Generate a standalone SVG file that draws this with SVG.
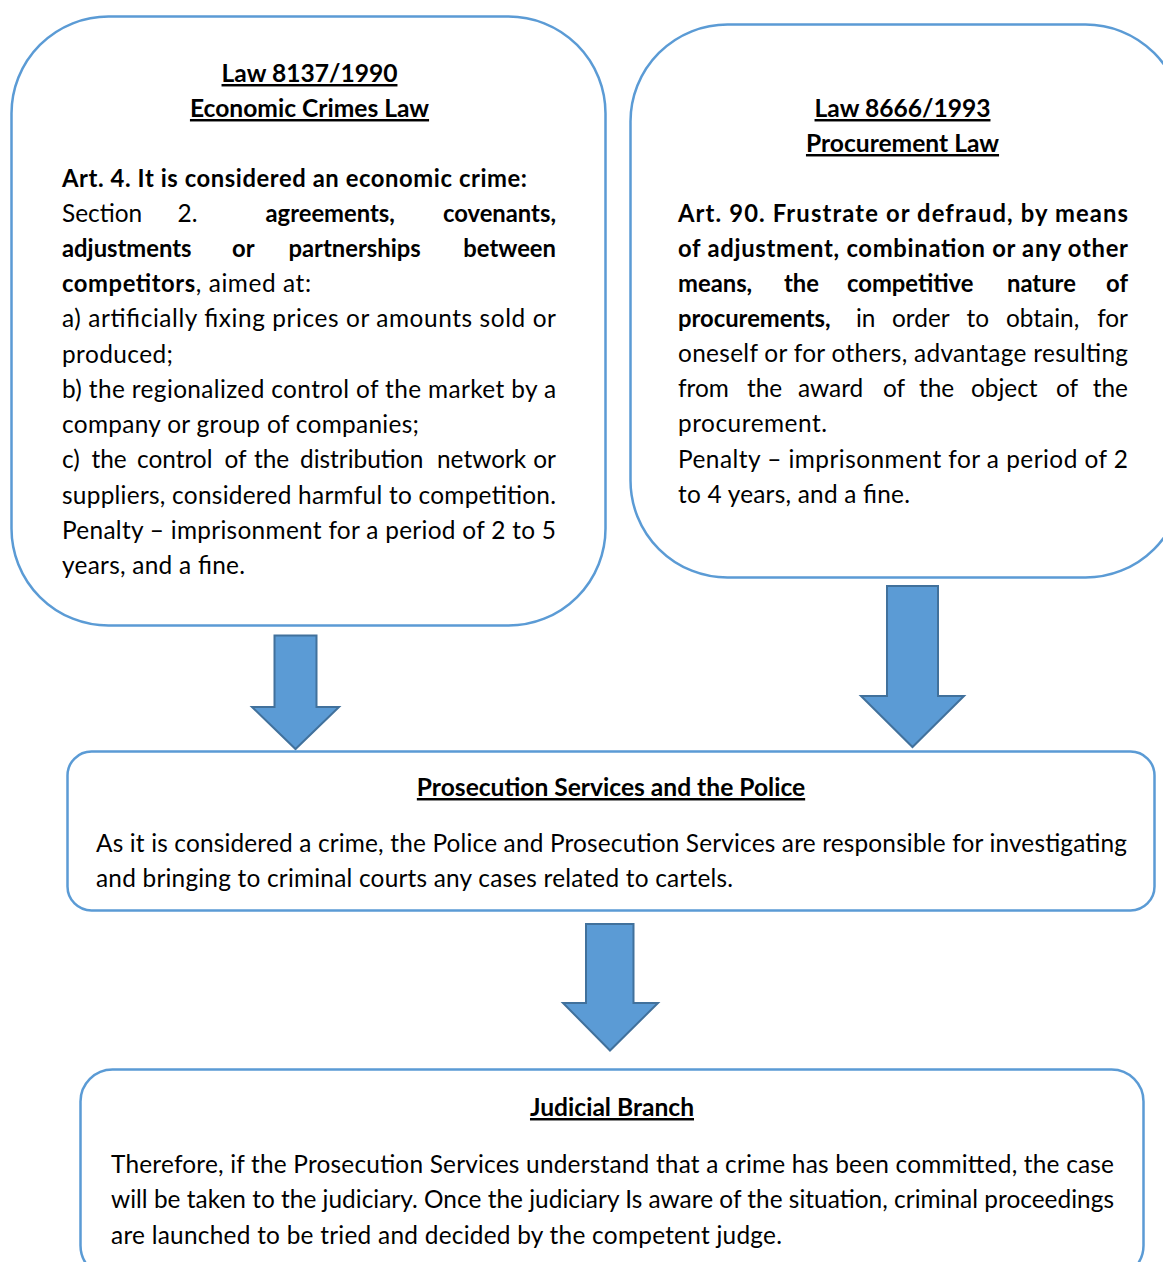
<svg xmlns="http://www.w3.org/2000/svg" width="1163" height="1262" viewBox="0 0 1163 1262">
<style>
.box{fill:#fff;stroke:#5B9BD5;stroke-width:2.5}
.arr{fill:#5B9BD5;stroke:#41719C;stroke-width:2;stroke-linejoin:miter}
text{font-family:Lato,"Open Sans","Liberation Sans",sans-serif;font-size:24.4px;fill:#000}
.b{font-weight:bold;font-size:23.8px}
.u{text-decoration:underline;font-size:24.6px}
.m{text-anchor:middle}
.e{text-anchor:end}
</style>
<rect width="1163" height="1262" fill="#fff"/>
<g id="connectors">
<polygon class="arr" points="274.5,635.5 316.5,635.5 316.5,707 339,707 295.5,749 252,707 274.5,707"/>
<polygon class="arr" points="887,586 938,586 938,696 964,696 912.5,747 861,696 887,696"/>
<polygon class="arr" points="586,924 633.5,924 633.5,1003 658,1003 610,1050.5 563,1003 586,1003"/>
</g>
<g id="law8137">
<rect class="box" x="11.5" y="16.5" width="594" height="609" rx="97" ry="97"/>
<text class="b u m" x="309.5" y="82">Law 8137/1990</text>
<text class="b u m" x="309.5" y="117">Economic Crimes Law</text>
<text class="b" x="62" y="187" textLength="465" lengthAdjust="spacing">Art. 4. It is considered an economic crime:</text>
<text y="222"><tspan x="62">Section</tspan><tspan x="177.5">2.</tspan><tspan class="b" x="265.5">agreements,</tspan><tspan class="b e" x="556">covenants,</tspan></text>
<text class="b" y="257"><tspan x="62">adjustments</tspan><tspan x="232">or</tspan><tspan x="288.5">partnerships</tspan><tspan class="e" x="556">between</tspan></text>
<text x="62" y="292" textLength="249" lengthAdjust="spacing"><tspan class="b">competitors</tspan>, aimed at:</text>
<text x="62" y="327" textLength="494" lengthAdjust="spacing">a) artificially fixing prices or amounts sold or</text>
<text x="62" y="362.5" textLength="111" lengthAdjust="spacing">produced;</text>
<text x="62" y="398" textLength="494" lengthAdjust="spacing">b) the regionalized control of the market by a</text>
<text x="62" y="433" textLength="357" lengthAdjust="spacing">company or group of companies;</text>
<text y="468"><tspan x="62">c)</tspan><tspan x="91.5">the</tspan><tspan x="137">control</tspan><tspan x="224.5">of</tspan><tspan x="254">the</tspan><tspan x="300">distribution</tspan><tspan x="437">network</tspan><tspan class="e" x="556">or</tspan></text>
<text x="62" y="503.5" textLength="494" lengthAdjust="spacing">suppliers, considered harmful to competition.</text>
<text x="62" y="539" textLength="494" lengthAdjust="spacing">Penalty – imprisonment for a period of 2 to 5</text>
<text x="62" y="574" textLength="183" lengthAdjust="spacing">years, and a fine.</text>
</g>
<g id="law8666">
<rect class="box" x="630.5" y="24.5" width="552" height="553" rx="97" ry="97"/>
<text class="b u m" x="902.5" y="117">Law 8666/1993</text>
<text class="b u m" x="902.5" y="152">Procurement Law</text>
<text class="b" x="678" y="222" textLength="450" lengthAdjust="spacing">Art. 90. Frustrate or defraud, by means</text>
<text class="b" x="678" y="257" textLength="450" lengthAdjust="spacing">of adjustment, combination or any other</text>
<text class="b" y="292"><tspan x="678">means,</tspan><tspan x="784">the</tspan><tspan x="847">competitive</tspan><tspan x="1007">nature</tspan><tspan class="e" x="1128">of</tspan></text>
<text y="327"><tspan class="b" x="678">procurements,</tspan><tspan x="856">in</tspan><tspan x="892">order</tspan><tspan x="966.5">to</tspan><tspan x="1006">obtain,</tspan><tspan class="e" x="1128">for</tspan></text>
<text x="678" y="362" textLength="450" lengthAdjust="spacing">oneself or for others, advantage resulting</text>
<text y="397"><tspan x="678">from</tspan><tspan x="747">the</tspan><tspan x="798">award</tspan><tspan x="883">of</tspan><tspan x="919">the</tspan><tspan x="971">object</tspan><tspan x="1056">of</tspan><tspan class="e" x="1128">the</tspan></text>
<text x="678" y="432" textLength="149" lengthAdjust="spacing">procurement.</text>
<text x="678" y="468" textLength="450" lengthAdjust="spacing">Penalty – imprisonment for a period of 2</text>
<text x="678" y="503" textLength="232" lengthAdjust="spacing">to 4 years, and a fine.</text>
</g>
<g id="prosecution">
<rect class="box" x="67.5" y="751.5" width="1087" height="159" rx="24" ry="24"/>
<text class="b u m" x="611" y="796">Prosecution Services and the Police</text>
<text x="96" y="851.5" textLength="1031" lengthAdjust="spacing">As it is considered a crime, the Police and Prosecution Services are responsible for investigating</text>
<text x="96" y="887" textLength="637" lengthAdjust="spacing">and bringing to criminal courts any cases related to cartels.</text>
</g>
<g id="judicial">
<rect class="box" x="80.5" y="1069.5" width="1063" height="208" rx="32" ry="32"/>
<text class="b u m" x="612" y="1116">Judicial Branch</text>
<text x="111" y="1173" textLength="1003" lengthAdjust="spacing">Therefore, if the Prosecution Services understand that a crime has been committed, the case</text>
<text x="111" y="1208" textLength="1003" lengthAdjust="spacing">will be taken to the judiciary. Once the judiciary Is aware of the situation, criminal proceedings</text>
<text x="111" y="1243.5" textLength="671" lengthAdjust="spacing">are launched to be tried and decided by the competent judge.</text>
</g>
</svg>
